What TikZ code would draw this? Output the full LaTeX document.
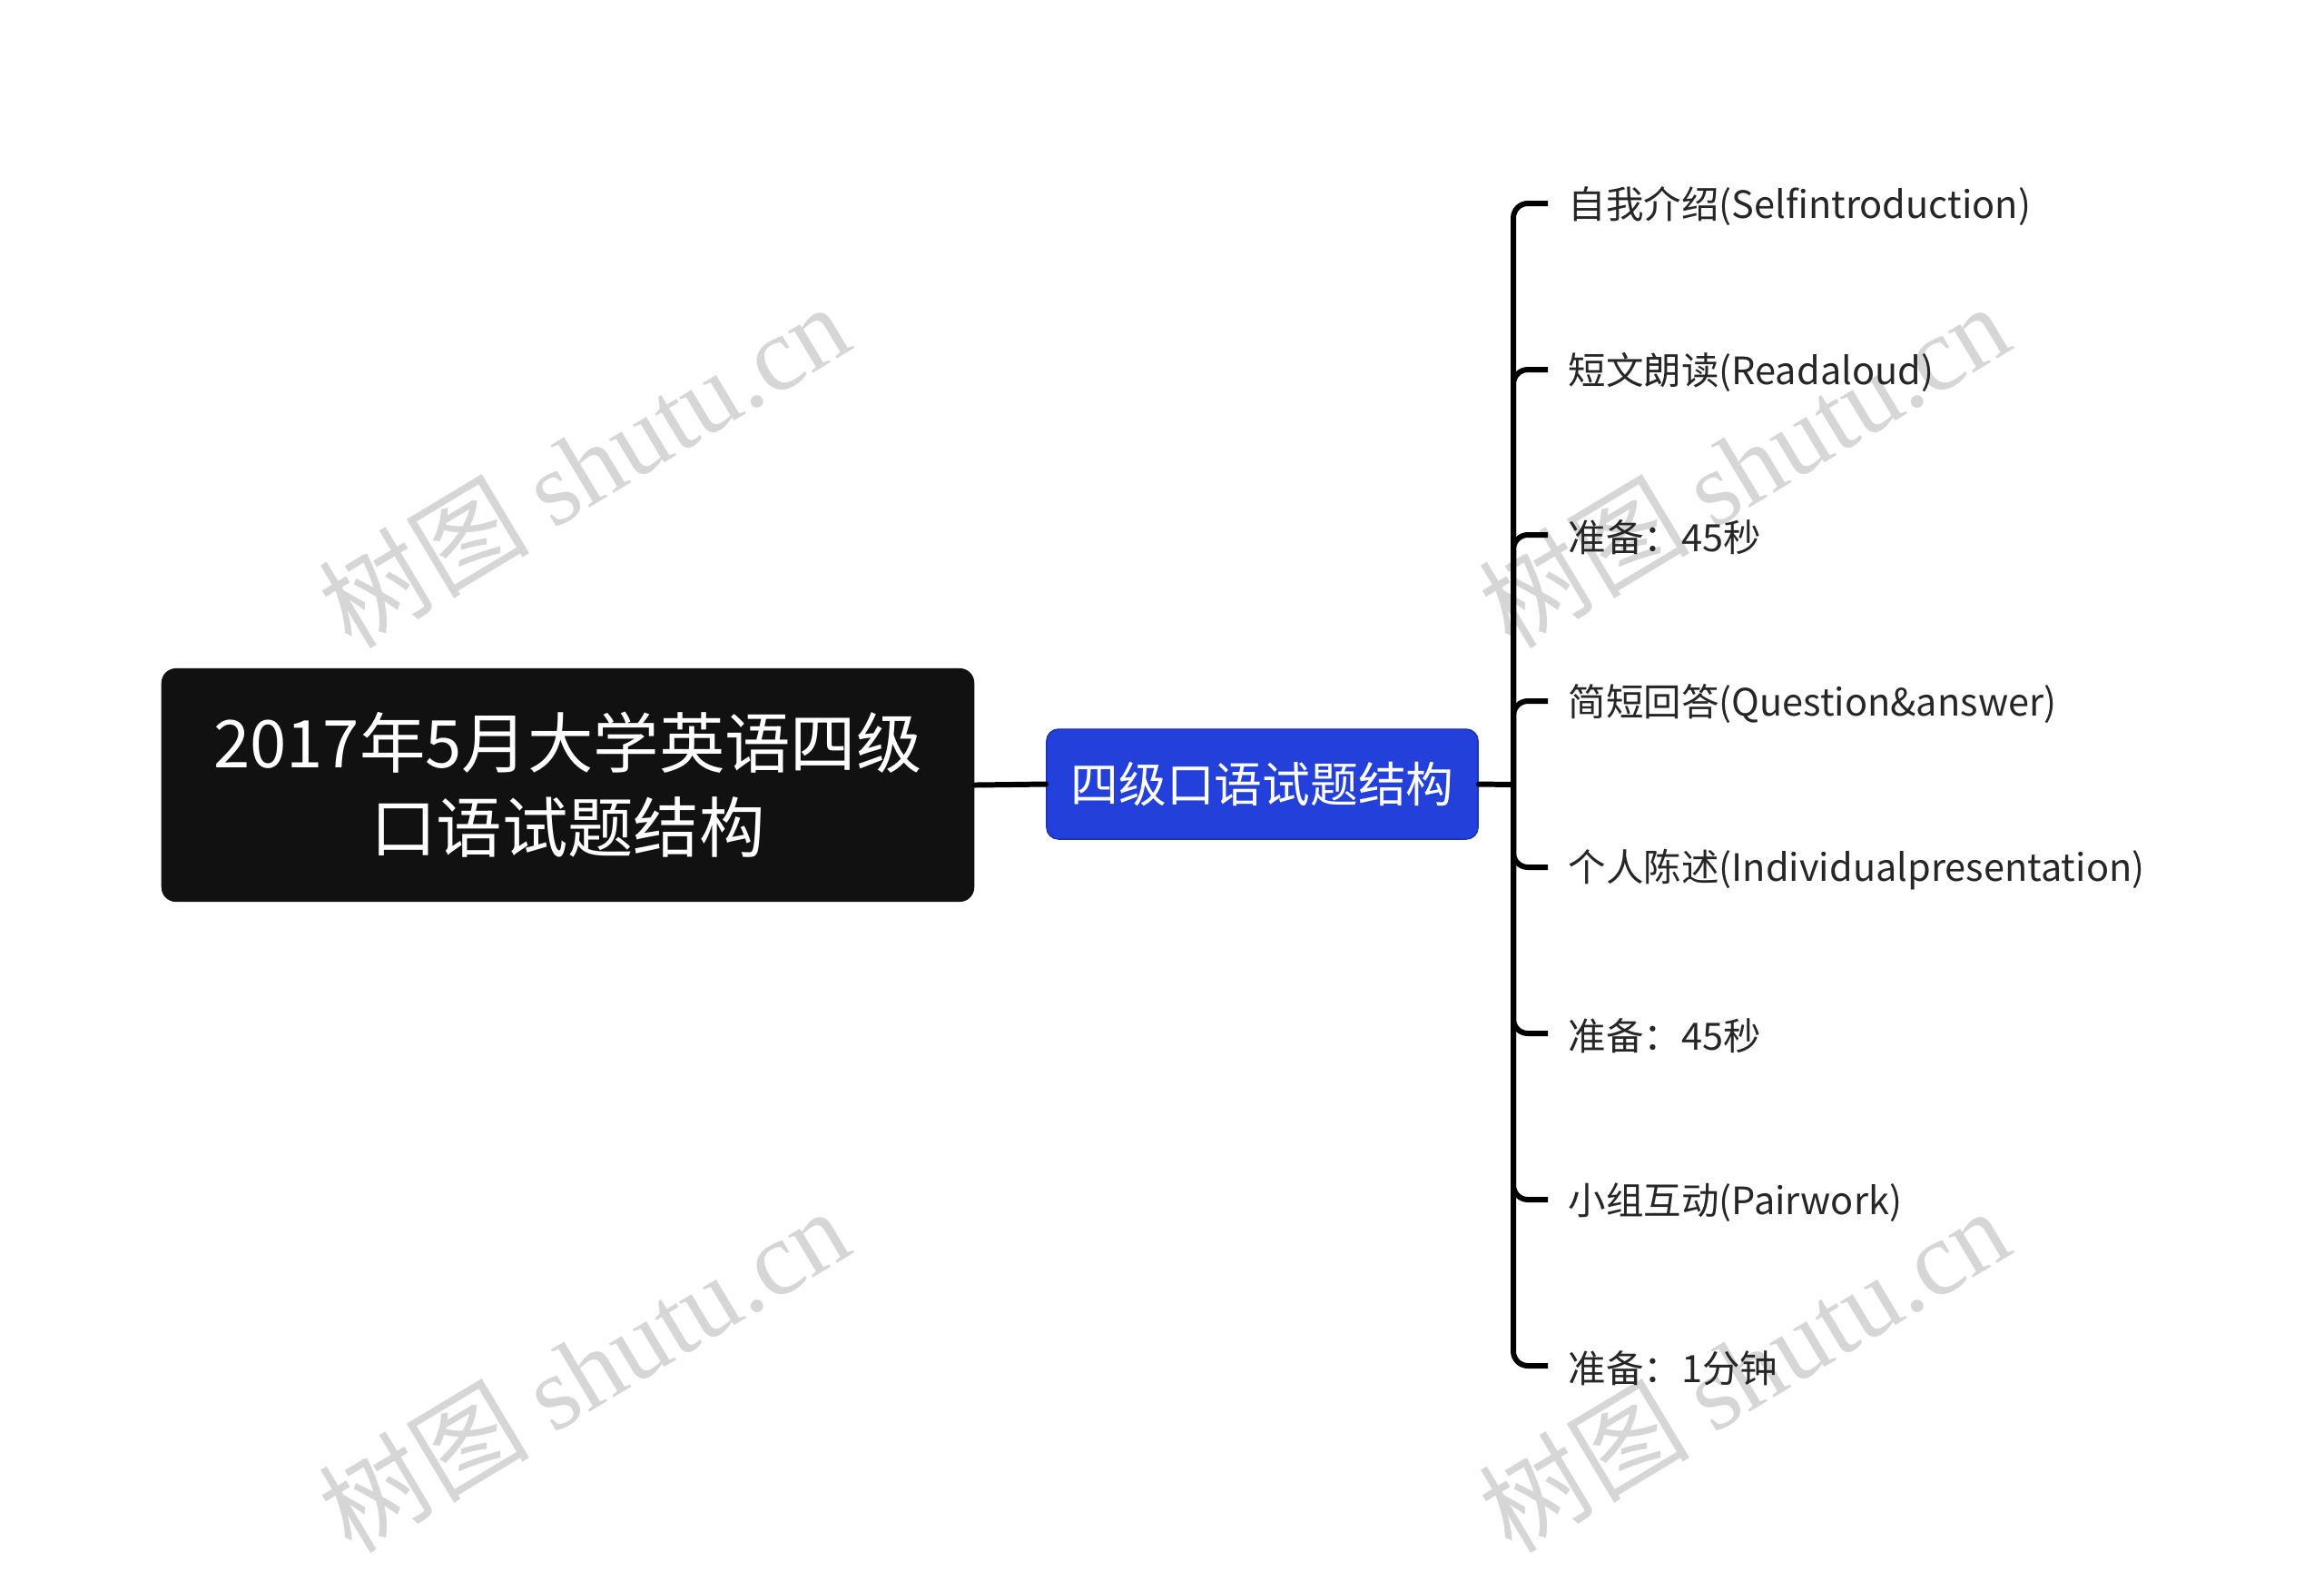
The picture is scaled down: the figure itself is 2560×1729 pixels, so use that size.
\documentclass[tikz,border=0pt]{standalone}
\usepackage{fontspec}
\setmainfont{Noto Sans CJK SC}
\newfontfamily\wmlatin{Liberation Serif}
\usetikzlibrary{calc}
\definecolor{rootfill}{RGB}{17,17,17}
\definecolor{bluefill}{RGB}{36,64,218}
\definecolor{leaftext}{RGB}{38,38,38}
\definecolor{wmgray}{RGB}{214,214,214}
\tikzset{
  rootbox/.style={fill=rootfill, rounded corners=0.16cm, text=white, align=center,
    minimum width=8.95cm, minimum height=2.57cm, inner sep=0pt,
    font=\fontsize{20.6}{26.5}\selectfont},
  bluebox/.style={fill=bluefill, draw=bluefill!80!black, line width=0.4pt, rounded corners=0.13cm, text=white,
    minimum width=4.75cm, minimum height=1.21cm, inner sep=0pt,
    font=\fontsize{15}{18}\selectfont},
  leaf/.style={anchor=west, inner sep=0pt, text=leaftext, font=\fontsize{11.8}{14}\selectfont},
  conn/.style={line width=1.7pt, black, line cap=round},
  brk/.style={line width=1.7pt, black, rounded corners=0.16cm},
  wm/.style={text=wmgray, rotate=31, font=\fontsize{33}{40}\selectfont, inner sep=0pt}
}
\begin{document}
\begin{tikzpicture}[x=0.01cm, y=-0.01cm]
\useasboundingbox (0,0) rectangle (2560,1729);
% watermarks
\node[wm] (wm1) at (643,512) {树图 {\wmlatin shutu.cn}};
\node[wm] (wm2) at (1921,512) {树图 {\wmlatin shutu.cn}};
\node[wm] (wm3) at (643,1508) {树图 {\wmlatin shutu.cn}};
\node[wm] (wm4) at (1921,1508) {树图 {\wmlatin shutu.cn}};
% nodes
\node[rootbox] (root) at (625.5,864.5) {2017年5月大学英语四级\\口语试题结构};
\node[bluebox] (blue) at (1390.5,863.5) {四级口语试题结构};
\coordinate (hub) at (1667,864);
\node[leaf] (l1) at (1727,227) {自我介绍(Selfintroduction)};
\node[leaf] (l2) at (1727,410) {短文朗读(Readaloud)};
\node[leaf] (l3) at (1727,592) {准备：45秒};
\node[leaf] (l4) at (1727,775) {简短回答(Question\&answer)};
\node[leaf] (l5) at (1727,958) {个人陈述(Individualpresentation)};
\node[leaf] (l6) at (1727,1141) {准备：45秒};
\node[leaf] (l7) at (1727,1324) {小组互动(Pairwork)};
\node[leaf] (l8) at (1727,1507) {准备：1分钟};
% connectors
\draw[conn] (root.east) -- (blue.west);
\draw[conn] (blue.east) -- (hub);
\foreach \i in {1,...,8}{
  \draw[brk] (hub) |- ($(l\i.west)+(-22,-3)$);
}
\end{tikzpicture}
\end{document}
